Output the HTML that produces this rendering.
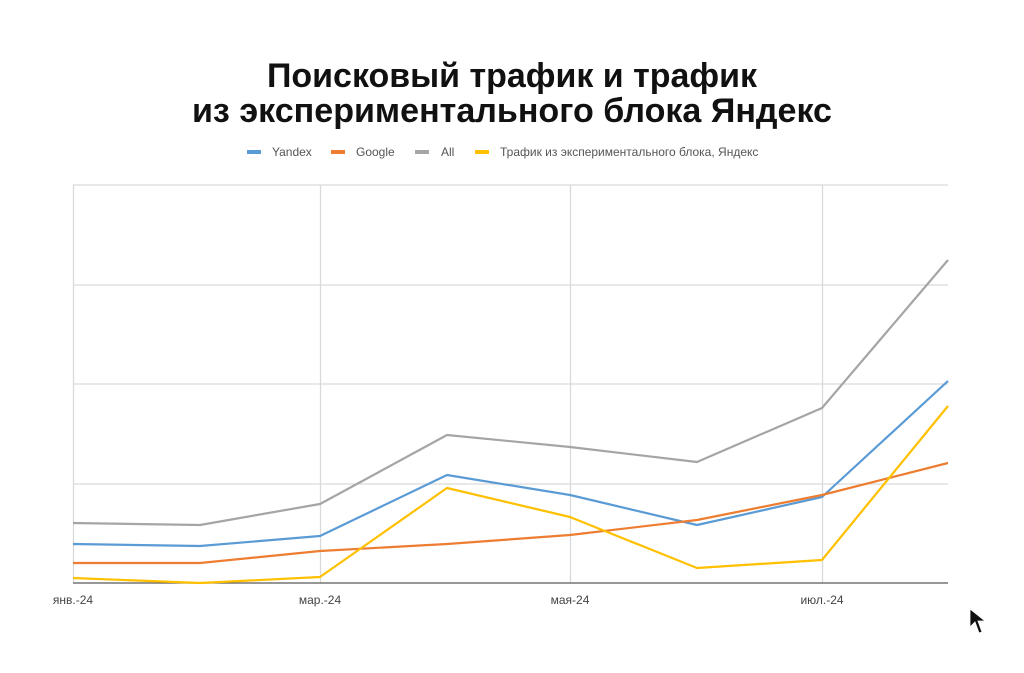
<!DOCTYPE html>
<html><head><meta charset="utf-8"><style>
html,body{margin:0;padding:0;background:#fff;}
svg{display:block;}
text{font-family:"Liberation Sans","DejaVu Sans",sans-serif;}
</style></head><body>
<svg width="1024" height="673" viewBox="0 0 1024 673" xmlns="http://www.w3.org/2000/svg">
<rect width="1024" height="673" fill="#fff"/>
<text x="512" y="87" text-anchor="middle" font-size="34" font-weight="bold" fill="#111" textLength="490" lengthAdjust="spacingAndGlyphs">Поисковый трафик и трафик</text>
<text x="512" y="122" text-anchor="middle" font-size="34" font-weight="bold" fill="#111" textLength="640" lengthAdjust="spacingAndGlyphs">из экспериментального блока Яндекс</text>
<g font-size="12" fill="#555">
<rect x="247" y="150" width="14" height="4" fill="#5b9bd5"/><text x="272" y="156">Yandex</text>
<rect x="331" y="150" width="14" height="4" fill="#ed7d31"/><text x="356" y="156">Google</text>
<rect x="415" y="150" width="14" height="4" fill="#a5a5a5"/><text x="441" y="156">All</text>
<rect x="475" y="150" width="14" height="4" fill="#ffc000"/><text x="500" y="156">Трафик из экспериментального блока, Яндекс</text>
</g>
<g stroke="#d9d9d9" stroke-width="1.3" fill="none">
<line x1="73" y1="185" x2="948" y2="185"/>
<line x1="73" y1="285" x2="948" y2="285"/>
<line x1="73" y1="384" x2="948" y2="384"/>
<line x1="73" y1="484" x2="948" y2="484"/>
<line x1="73.5" y1="185" x2="73.5" y2="583"/>
<line x1="320.5" y1="185" x2="320.5" y2="583"/>
<line x1="570.5" y1="185" x2="570.5" y2="583"/>
<line x1="822.5" y1="185" x2="822.5" y2="583"/>
</g>
<line x1="73" y1="583" x2="948" y2="583" stroke="#595959" stroke-width="1.3"/>
<g fill="none" stroke-width="2.2" stroke-linejoin="round">
<polyline stroke="#a5a5a5" points="73,523 200,525 320,504 447,435 570,447 697,462 822,408 948,260"/>
<polyline stroke="#5b9bd5" points="73,544 200,546 320,536 447,475 570,495 697,525 822,497 948,381"/>
<polyline stroke="#ed7d31" points="73,563 200,563 320,551 447,544 570,535 697,520 822,495 948,463"/>
<polyline stroke="#ffc000" points="73,578 200,583 320,577 447,488 570,517 697,568 822,560 948,406"/>
</g>
<g font-size="12" fill="#444" text-anchor="middle">
<text x="73" y="604">янв.-24</text>
<text x="320" y="604">мар.-24</text>
<text x="570" y="604">мая-24</text>
<text x="822" y="604">июл.-24</text>
</g>
<path d="M970,609 L970,627 L975,622 L979,633 L982,632 L978,621 L985,621 Z" fill="#111" stroke="#fff" stroke-width="0.8"/>
</svg>
</body></html>
